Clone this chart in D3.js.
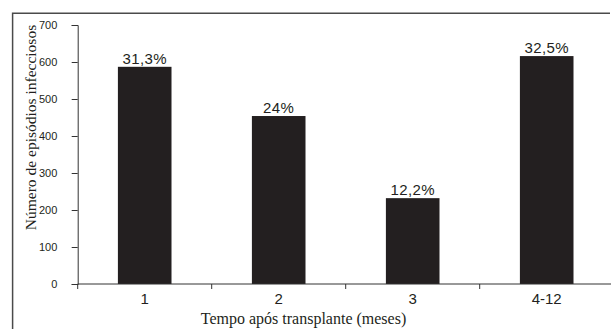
<!DOCTYPE html>
<html>
<head>
<meta charset="utf-8">
<script src="https://cdn.jsdelivr.net/npm/d3@7"></script>
<style>
  html, body { margin: 0; padding: 0; background: #fff; }
  svg { display: block; }
</style>
</head>
<body>
<svg id="chart" width="611" height="329"></svg>
<script>
// Infectious episodes by time after transplant
const categories = ["1", "2", "3", "4-12"];
const episodes = [587, 454, 232, 616];
const shares = ["31,3%", "24%", "12,2%", "32,5%"];
const yTicks = [0, 100, 200, 300, 400, 500, 600, 700];

const svg = d3.select("#chart");
const W = 611, H = 329;

const plotLeft = 77.7, plotTop = 25, plotBottom = 284;
const slot = 134;

const x = d3.scaleBand()
  .domain(categories)
  .range([plotLeft, plotLeft + slot * categories.length])
  .paddingInner(0.6)
  .paddingOuter(0.3);

const y = d3.scaleLinear().domain([0, 700]).range([plotBottom, plotTop]);

// outer frame (top and left edges)
svg.append("path")
  .attr("d", `M610,13.2H12.6V${H}`)
  .attr("fill", "none")
  .attr("stroke", "#4a4a4a")
  .attr("stroke-width", 1.5);

// bars
svg.append("g").selectAll("rect")
  .data(categories)
  .join("rect")
  .attr("x", d => x(d))
  .attr("width", x.bandwidth())
  .attr("y", (d, i) => y(episodes[i]))
  .attr("height", (d, i) => y(0) - y(episodes[i]))
  .attr("fill", "#231f20");

// value labels
svg.append("g").selectAll("text")
  .data(categories)
  .join("text")
  .attr("x", d => x(d) + x.bandwidth() / 2)
  .attr("y", (d, i) => y(episodes[i]) - 3)
  .attr("text-anchor", "middle")
  .attr("font-family", "'Liberation Sans', Arial, sans-serif")
  .attr("font-size", 15)
  .attr("letter-spacing", 0.4)
  .attr("fill", "#231f20")
  .text((d, i) => shares[i]);

// y axis
const yAxis = svg.append("g")
  .attr("transform", `translate(${plotLeft},0)`)
  .call(d3.axisLeft(y).tickValues(yTicks).tickSize(6).tickPadding(14.4));
yAxis.selectAll("path, line").attr("stroke", "#333");
yAxis.selectAll("text")
  .attr("font-family", "'Liberation Sans', Arial, sans-serif")
  .attr("font-size", 11)
  .attr("fill", "#231f20");

// x axis line
svg.append("line")
  .attr("x1", plotLeft).attr("x2", W)
  .attr("y1", plotBottom).attr("y2", plotBottom)
  .attr("stroke", "#333");

// category boundary ticks
const bounds = categories.map(c => x(c) - x.step() * x.paddingOuter());
svg.append("g").selectAll("line")
  .data(bounds)
  .join("line")
  .attr("x1", d => d).attr("x2", d => d)
  .attr("y1", plotBottom).attr("y2", plotBottom + 5)
  .attr("stroke", "#333");

// category labels
const xAxis = svg.append("g")
  .attr("transform", `translate(0,${plotBottom})`)
  .call(d3.axisBottom(x).tickSize(0).tickPadding(9));
xAxis.select(".domain").remove();
xAxis.selectAll("text")
  .attr("font-family", "'Liberation Sans', Arial, sans-serif")
  .attr("font-size", 15)
  .attr("fill", "#231f20");

// axis titles
svg.append("text")
  .attr("transform", `translate(36,127.5) rotate(-90)`)
  .attr("text-anchor", "middle")
  .attr("font-family", "'Liberation Serif', 'Times New Roman', serif")
  .attr("font-size", 15.5)
  .attr("fill", "#231f20")
  .text("Número de episódios infecciosos");

svg.append("text")
  .attr("x", 303.5)
  .attr("y", 324)
  .attr("text-anchor", "middle")
  .attr("font-family", "'Liberation Serif', 'Times New Roman', serif")
  .attr("font-size", 16)
  .attr("fill", "#231f20")
  .text("Tempo após transplante (meses)");
</script>
</body>
</html>
